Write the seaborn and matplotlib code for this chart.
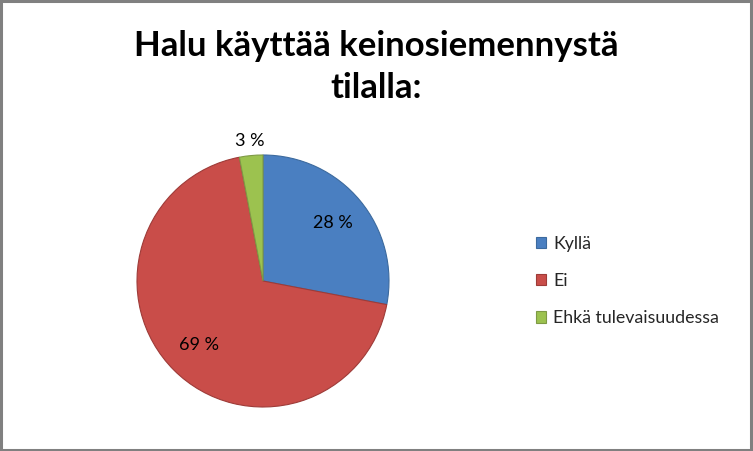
import matplotlib
matplotlib.use('Agg')
import matplotlib.pyplot as plt
import seaborn as sns
import numpy as np
from matplotlib.patches import Rectangle

labels = ['Kyllä', 'Ei', 'Ehkä tulevaisuudessa']
shares = [28, 69, 3]
colors = ['#4A7FC1', '#C94D49', '#9CC24F']
edges = ['#3C6A9E', '#9E3B38', '#7E9A45']

sns.set_theme(style='white')
plt.rcParams['font.family'] = ['Lato', 'DejaVu Sans']

fig = plt.figure(figsize=(7.53, 4.51), dpi=100)
fig.patch.set_facecolor('white')
fig.patches.append(Rectangle((0.001, 0.002), 0.997, 0.995, transform=fig.transFigure,
                             fill=False, edgecolor='#808080', linewidth=2.2))

fig.text(0.5, 0.852, 'Halu käyttää keinosiemennystä\ntilalla:', ha='center', va='center',
         fontsize=25, fontweight='bold', color='black', linespacing=1.4)

ax = fig.add_axes([(263 - 126) / 753, (451 - 407) / 451, 252 / 753, 252 / 451])
wedges, texts, autotexts = ax.pie(
    shares, colors=colors, startangle=90, counterclock=False,
    autopct=lambda p: '%d %%' % round(p), pctdistance=0.72,
    wedgeprops=dict(linewidth=0.8), textprops=dict(fontsize=13, color='black'))
for w, e in zip(wedges, edges):
    w.set_edgecolor(e)

# small slice label sits outside the pie
w = wedges[2]
ang = np.deg2rad((w.theta1 + w.theta2) / 2)
autotexts[2].set_position((1.13 * np.cos(ang), 1.12 * np.sin(ang)))
ax.set_xlim(-1, 1)
ax.set_ylim(-1, 1)
ax.set_aspect('equal')
for t in autotexts:
    t.set_clip_on(False)

leg = fig.legend(wedges, labels, loc='center left', bbox_to_anchor=(0.69, 0.377),
                 frameon=False, fontsize=12.8, handlelength=0.6, handleheight=0.6,
                 handletextpad=0.4, labelspacing=1.2)

fig.savefig('out.png', dpi=100, facecolor='white')
